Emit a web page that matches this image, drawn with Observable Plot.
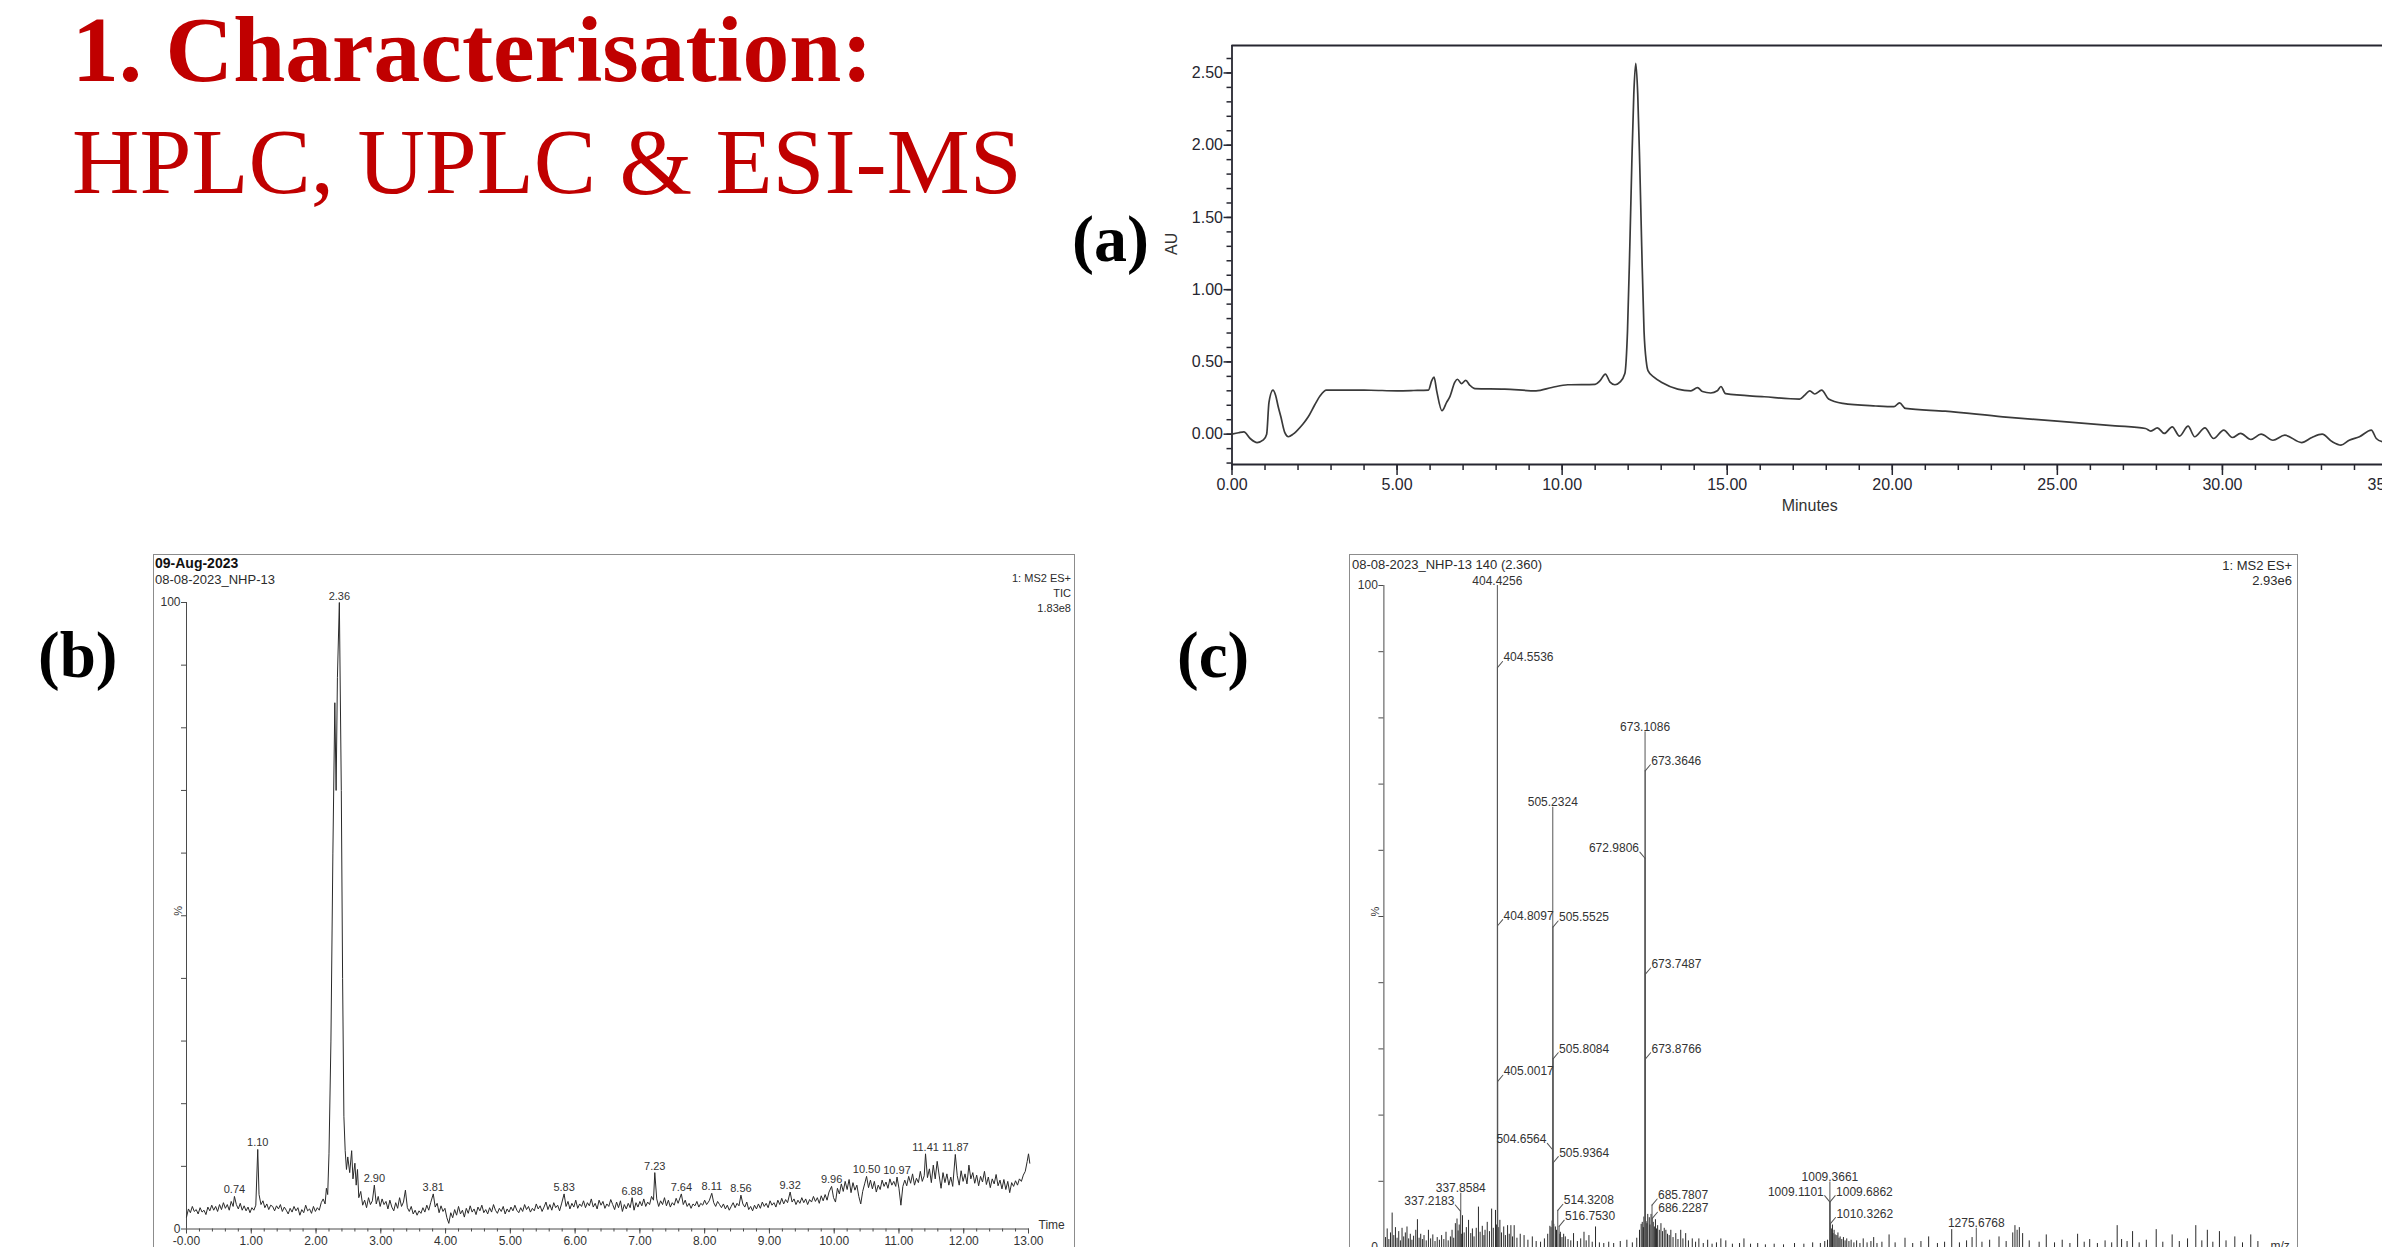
<!DOCTYPE html>
<html><head><meta charset="utf-8">
<script src="https://cdn.jsdelivr.net/npm/d3@7"></script>
<script src="https://cdn.jsdelivr.net/npm/@observablehq/plot@0.6"></script>
<style>
html,body{margin:0;padding:0;background:#fff;}
body{width:2382px;height:1247px;overflow:hidden;position:relative;}
.abs{position:absolute;white-space:nowrap;}
.serif{font-family:"Liberation Serif","Times New Roman",serif;line-height:1;}
.sans{font-family:"Liberation Sans",Arial,sans-serif;color:#2b2b2b;}
.box{position:absolute;border:1px solid #8c8c8c;box-sizing:border-box;}
</style></head><body>
<div class="box" style="left:153px;top:554px;width:922px;height:720px"></div>
<div class="box" style="left:1349px;top:554px;width:949px;height:720px"></div>
<div id="pa" class="abs" style="left:1100px;top:20px;width:1287px;height:505px"></div>
<div id="pb" class="abs" style="left:153px;top:554px;width:921px;height:705px"></div>
<div id="pc" class="abs" style="left:1349px;top:554px;width:948px;height:723px"></div>
<div class="abs serif" style="left:72px;top:3px;font-size:93.6px;font-weight:bold;color:#C00000">1. Characterisation:</div>
<div class="abs serif" style="left:72px;top:115px;font-size:93.4px;color:#C00000">HPLC, UPLC &amp; ESI-MS</div>
<div class="abs serif" style="left:1072px;top:206px;font-size:66px;font-weight:bold">(a)</div>
<div class="abs serif" style="left:38px;top:623px;font-size:65px;font-weight:bold">(b)</div>
<div class="abs serif" style="left:1177px;top:623px;font-size:65px;font-weight:bold">(c)</div>
<div class="abs sans" style="left:155px;top:556px;font-size:14px;font-weight:bold;line-height:1;color:#111">09-Aug-2023</div>
<div class="abs sans" style="left:155px;top:573px;font-size:13px;line-height:1">08-08-2023_NHP-13</div>
<div class="abs sans" style="right:1311px;top:571px;font-size:11px;line-height:15px;text-align:right">1: MS2 ES+<br>TIC<br>1.83e8</div>
<div class="abs sans" style="left:1352px;top:558px;font-size:13px;line-height:1">08-08-2023_NHP-13 140 (2.360)</div>
<div class="abs sans" style="right:90px;top:558px;font-size:13px;line-height:15px;text-align:right">1: MS2 ES+<br>2.93e6</div>
<script>
const SANS = "Liberation Sans, Arial, sans-serif";

// ---------- Panel (a): HPLC chromatogram [minutes, AU] ----------
const hplcTrace = [[0,0],[0.2,0.01],[0.36,0.016],[0.55,-0.03],[0.76,-0.058],[0.95,-0.04],[1.05,0],[1.12,0.22],[1.24,0.305],[1.32,0.27],[1.40,0.19],[1.48,0.12],[1.60,0.01],[1.71,-0.018],[1.85,0],[1.95,0.02],[2.15,0.07],[2.31,0.12],[2.5,0.2],[2.67,0.266],[2.86,0.305],[3.5,0.305],[4.2,0.304],[5.0,0.3],[5.5,0.302],[5.95,0.305],[6.05,0.37],[6.12,0.395],[6.2,0.3],[6.36,0.162],[6.5,0.22],[6.6,0.26],[6.75,0.36],[6.83,0.38],[6.95,0.35],[7.08,0.372],[7.2,0.34],[7.36,0.315],[8.26,0.312],[9.21,0.3],[9.69,0.323],[10.17,0.342],[11.0,0.345],[11.15,0.37],[11.31,0.416],[11.45,0.36],[11.6,0.342],[11.75,0.36],[11.9,0.42],[11.98,0.716],[12.05,1.3],[12.11,1.87],[12.17,2.35],[12.23,2.566],[12.29,2.35],[12.35,1.87],[12.41,1.3],[12.48,0.716],[12.55,0.5],[12.6,0.44],[12.79,0.393],[13.02,0.358],[13.5,0.312],[13.9,0.3],[14.1,0.322],[14.25,0.295],[14.5,0.285],[14.7,0.3],[14.81,0.33],[14.95,0.28],[16.12,0.259],[17.19,0.243],[17.35,0.27],[17.5,0.3],[17.65,0.278],[17.86,0.305],[18.07,0.243],[18.5,0.213],[19.5,0.195],[20.05,0.19],[20.22,0.217],[20.4,0.178],[21.6,0.159],[23.35,0.12],[24.9,0.092],[26.75,0.058],[27.67,0.039],[27.83,0.021],[28.03,0.044],[28.24,0.005],[28.48,0.051],[28.7,-0.014],[28.96,0.055],[29.16,-0.018],[29.47,0.044],[29.73,-0.03],[30.04,0.028],[30.3,-0.023],[30.55,0.005],[30.86,-0.037],[31.17,0],[31.53,-0.042],[31.89,-0.007],[32.4,-0.058],[32.71,-0.023],[33.02,0],[33.33,-0.053],[33.59,-0.076],[33.84,-0.042],[34.15,-0.018],[34.51,0.028],[34.66,-0.03],[34.85,-0.053]];
const xTicksA = [0, 5, 10, 15, 20, 25, 30, 35];
const xTickLabelsA = ["0.00", "5.00", "10.00", "15.00", "20.00", "25.00", "30.00", "35.00"];
const yTicksA = [0, 0.5, 1, 1.5, 2, 2.5];
const yTickLabelsA = ["0.00", "0.50", "1.00", "1.50", "2.00", "2.50"];
const xLabelA = "Minutes", yLabelA = "AU";

// ---------- Panel (b): UPLC-MS TIC [time, %] ----------
const ticTrace = [[0.00,1.9],[0.03,3.2],[0.06,2.6],[0.09,3.6],[0.12,2.8],[0.15,3.1],[0.18,2.4],[0.21,3.4],[0.24,2.7],[0.27,3.0],[0.30,2.3],[0.33,3.5],[0.36,2.9],[0.39,3.8],[0.42,3.0],[0.45,3.6],[0.48,2.8],[0.51,3.9],[0.54,3.1],[0.57,4.2],[0.60,3.3],[0.63,3.9],[0.66,3.0],[0.69,4.4],[0.72,3.6],[0.74,5.2],[0.77,3.9],[0.80,3.2],[0.83,4.1],[0.86,3.0],[0.89,3.7],[0.92,2.9],[0.95,3.5],[0.98,2.6],[1.01,3.4],[1.04,3.0],[1.07,3.8],[1.10,12.7],[1.12,5.5],[1.15,3.9],[1.18,4.5],[1.21,3.4],[1.24,4.0],[1.27,3.1],[1.30,3.8],[1.33,3.6],[1.36,2.9],[1.39,3.7],[1.42,3.2],[1.45,3.9],[1.48,2.8],[1.51,3.5],[1.54,3.0],[1.57,2.4],[1.60,3.3],[1.63,2.7],[1.66,3.6],[1.69,2.9],[1.72,3.4],[1.75,2.2],[1.78,3.1],[1.81,2.6],[1.84,3.8],[1.87,2.9],[1.90,3.2],[1.93,2.5],[1.96,3.6],[1.99,2.8],[2.02,3.4],[2.05,3.0],[2.08,4.2],[2.11,4.8],[2.14,4.0],[2.16,6.5],[2.18,5.5],[2.20,12.0],[2.23,30],[2.26,60],[2.29,84],[2.31,70],[2.33,88],[2.36,100],[2.39,70],[2.41,40],[2.43,18],[2.45,12.5],[2.47,9.5],[2.49,11.5],[2.52,9.0],[2.55,12.5],[2.57,8.0],[2.60,10.5],[2.62,7.0],[2.64,9.5],[2.66,5.0],[2.69,6.0],[2.72,3.8],[2.75,4.6],[2.78,3.4],[2.81,5.0],[2.84,3.9],[2.87,4.5],[2.90,7.0],[2.93,4.0],[2.96,5.2],[2.99,3.6],[3.02,4.8],[3.05,3.9],[3.08,4.4],[3.11,3.2],[3.14,4.6],[3.17,3.5],[3.20,2.9],[3.23,4.2],[3.26,3.3],[3.29,5.0],[3.32,3.6],[3.35,4.3],[3.38,6.2],[3.41,3.4],[3.44,2.8],[3.47,3.6],[3.50,2.4],[3.53,3.0],[3.56,2.2],[3.59,2.9],[3.62,2.5],[3.65,3.4],[3.68,2.7],[3.71,3.8],[3.74,3.0],[3.77,4.2],[3.81,5.6],[3.84,3.5],[3.87,4.1],[3.90,2.6],[3.93,3.7],[3.96,2.8],[3.99,3.3],[4.02,1.8],[4.05,0.9],[4.08,2.6],[4.11,1.8],[4.14,3.1],[4.17,2.2],[4.20,3.6],[4.23,2.4],[4.26,3.0],[4.29,1.9],[4.32,3.3],[4.35,2.5],[4.38,3.7],[4.41,2.7],[4.44,3.2],[4.47,2.3],[4.50,3.5],[4.53,2.9],[4.56,3.8],[4.59,2.6],[4.62,3.1],[4.65,2.4],[4.68,3.4],[4.71,2.7],[4.74,3.9],[4.77,3.0],[4.80,2.5],[4.83,3.3],[4.86,2.8],[4.89,3.6],[4.92,2.4],[4.95,3.2],[4.98,2.7],[5.01,3.5],[5.04,2.9],[5.07,3.8],[5.10,3.0],[5.13,2.6],[5.16,3.4],[5.19,2.8],[5.22,3.9],[5.25,3.1],[5.28,3.6],[5.31,2.7],[5.34,3.3],[5.37,2.9],[5.40,4.0],[5.43,3.2],[5.46,3.7],[5.49,2.8],[5.52,3.5],[5.55,4.3],[5.58,3.1],[5.61,3.9],[5.64,3.0],[5.67,4.2],[5.70,3.4],[5.73,3.8],[5.76,2.9],[5.79,4.0],[5.83,5.6],[5.86,3.6],[5.89,4.4],[5.92,3.2],[5.95,4.1],[5.98,3.5],[6.01,4.6],[6.04,3.3],[6.07,4.0],[6.10,3.6],[6.13,4.5],[6.16,3.4],[6.19,4.2],[6.22,3.7],[6.25,4.8],[6.28,3.5],[6.31,4.1],[6.34,3.2],[6.37,4.6],[6.40,3.8],[6.43,4.4],[6.46,3.3],[6.49,4.0],[6.52,3.6],[6.55,4.7],[6.58,3.9],[6.61,3.1],[6.64,4.3],[6.67,3.4],[6.70,4.5],[6.73,2.8],[6.76,3.9],[6.79,3.2],[6.82,4.1],[6.85,3.4],[6.88,5.0],[6.91,3.0],[6.94,4.2],[6.97,3.5],[7.00,4.4],[7.03,3.7],[7.06,4.8],[7.09,3.6],[7.12,4.3],[7.15,3.9],[7.18,5.2],[7.21,4.6],[7.23,9.0],[7.26,4.8],[7.29,3.6],[7.32,4.5],[7.35,3.9],[7.38,5.0],[7.41,3.7],[7.44,4.6],[7.47,3.5],[7.50,4.2],[7.53,3.8],[7.56,4.9],[7.59,4.1],[7.64,5.6],[7.67,3.9],[7.70,4.6],[7.73,3.6],[7.76,4.1],[7.79,3.3],[7.82,4.0],[7.85,3.7],[7.88,4.4],[7.91,3.5],[7.94,4.1],[7.97,3.8],[8.00,4.6],[8.03,3.9],[8.07,4.5],[8.11,5.7],[8.14,4.2],[8.17,3.6],[8.20,4.4],[8.23,3.9],[8.26,3.4],[8.29,4.0],[8.32,3.2],[8.35,3.8],[8.38,3.0],[8.41,3.6],[8.44,4.2],[8.47,3.4],[8.50,4.1],[8.53,3.7],[8.56,5.4],[8.59,4.0],[8.62,3.5],[8.65,4.3],[8.68,3.1],[8.71,3.6],[8.74,2.9],[8.77,3.8],[8.80,3.2],[8.83,4.0],[8.86,3.3],[8.89,4.3],[8.92,3.6],[8.95,4.1],[8.98,3.4],[9.01,4.5],[9.04,3.8],[9.07,4.2],[9.10,3.5],[9.13,4.6],[9.16,3.9],[9.19,4.9],[9.22,4.0],[9.25,4.7],[9.28,4.2],[9.32,5.9],[9.35,4.3],[9.38,4.8],[9.41,3.9],[9.44,4.6],[9.47,4.1],[9.50,5.0],[9.53,4.2],[9.56,4.8],[9.59,3.9],[9.62,4.7],[9.65,4.3],[9.68,5.2],[9.71,4.4],[9.74,5.0],[9.77,4.1],[9.80,5.3],[9.83,4.5],[9.86,5.5],[9.89,4.6],[9.92,5.9],[9.96,6.8],[9.99,5.0],[10.02,4.3],[10.05,6.5],[10.08,5.6],[10.11,7.2],[10.14,6.0],[10.17,7.6],[10.20,6.3],[10.23,7.9],[10.26,5.8],[10.29,7.4],[10.32,6.2],[10.35,7.0],[10.38,5.2],[10.41,4.0],[10.44,6.0],[10.47,7.2],[10.50,8.4],[10.53,6.6],[10.56,7.8],[10.59,6.4],[10.62,7.6],[10.65,5.9],[10.68,7.0],[10.71,6.3],[10.74,7.8],[10.77,6.8],[10.80,7.5],[10.83,6.5],[10.86,8.0],[10.89,7.0],[10.92,7.6],[10.95,6.8],[10.97,8.3],[11.00,6.5],[11.03,3.8],[11.06,6.8],[11.09,7.8],[11.12,6.9],[11.15,8.4],[11.18,7.3],[11.21,8.8],[11.24,7.0],[11.27,8.1],[11.30,7.4],[11.33,9.2],[11.36,7.6],[11.39,8.5],[11.41,12.0],[11.44,8.2],[11.47,9.6],[11.50,7.4],[11.53,10.2],[11.56,8.0],[11.59,10.8],[11.62,8.6],[11.65,6.5],[11.68,9.0],[11.71,7.4],[11.74,8.8],[11.77,7.0],[11.80,8.3],[11.83,6.8],[11.87,11.9],[11.90,8.5],[11.93,7.0],[11.96,9.3],[11.99,7.6],[12.02,8.8],[12.05,7.2],[12.08,10.2],[12.11,8.0],[12.14,9.0],[12.17,7.3],[12.20,8.6],[12.23,6.9],[12.26,8.4],[12.29,7.5],[12.32,9.2],[12.35,7.1],[12.38,8.3],[12.41,6.6],[12.44,8.0],[12.47,7.2],[12.50,8.7],[12.53,6.9],[12.56,7.8],[12.59,6.4],[12.62,7.9],[12.65,6.3],[12.68,7.6],[12.71,5.8],[12.74,7.4],[12.77,6.8],[12.80,7.7],[12.83,7.0],[12.86,8.0],[12.89,7.6],[12.92,8.6],[12.95,9.2],[12.98,10.8],[13.00,12.0],[13.02,10.5]];
const ticPeakTime = [0.74, 1.10, 2.36, 2.90, 3.81, 5.83, 6.88, 7.23, 7.64, 8.11, 8.56, 9.32, 9.96, 10.50, 10.97, 11.41, 11.87];
const ticPeakPct = [5.2, 12.7, 100, 7.0, 5.6, 5.6, 5.0, 9.0, 5.6, 5.7, 5.4, 5.9, 6.8, 8.4, 8.3, 12.0, 11.9];
const ticPeakLabel = ["0.74", "1.10", "2.36", "2.90", "3.81", "5.83", "6.88", "7.23", "7.64", "8.11", "8.56", "9.32", "9.96", "10.50", "10.97", "11.41", "11.87"];
const xTicksB = [0,1,2,3,4,5,6,7,8,9,10,11,12,13];
const xTickLabelsB = ["-0.00","1.00","2.00","3.00","4.00","5.00","6.00","7.00","8.00","9.00","10.00","11.00","12.00","13.00"];
const yEndTicks = [0, 100];
const yEndLabels = ["0", "100"];

// ---------- Panel (c): ESI-MS spectrum [m/z, %] ----------
const peakMz = [404.4256, 404.5536, 404.8097, 405.0017, 505.2324, 505.5525, 505.8084, 505.9364, 504.6564, 673.1086, 673.3646, 672.9806, 673.7487, 673.8766, 337.8584, 337.2183, 514.3208, 516.7530, 685.7807, 686.2287, 1009.3661, 1009.1101, 1009.6862, 1010.3262, 1275.6768];
const peakPct = [100, 87.6, 48.6, 25.1, 66.5, 48.4, 28.5, 12.8, 14.8, 77.9, 72.0, 58.8, 41.3, 28.5, 8.2, 5.5, 5.6, 3.2, 6.4, 4.4, 9.9, 6.9, 6.9, 3.6, 2.9];
const peakLabel = ["404.4256", "404.5536", "404.8097", "405.0017", "505.2324", "505.5525", "505.8084", "505.9364", "504.6564", "673.1086", "673.3646", "672.9806", "673.7487", "673.8766", "337.8584", "337.2183", "514.3208", "516.7530", "685.7807", "686.2287", "1009.3661", "1009.1101", "1009.6862", "1010.3262", "1275.6768"];
const peakSide = ["top", "right", "right", "right", "top", "right", "right", "right", "left", "top", "right", "left", "right", "right", "top", "left", "right", "right", "right", "right", "top", "left", "right", "right", "top"];
const noisePeaks = [[201,1.5],[204,2.8],[207,1.2],[210,2.2],[213,5.2],[216,1.8],[219,3.0],[222,1.4],[225,2.4],[228,1.0],[231,2.9],[234,1.6],[237,2.2],[240,3.1],[243,1.3],[246,2.0],[249,1.1],[252,1.7],[256,2.6],[259,4.2],[262,1.4],[265,2.0],[268,1.2],[271,1.8],[275,1.0],[279,2.6],[283,1.3],[287,1.9],[291,0.9],[295,1.5],[299,1.1],[303,1.8],[307,1.2],[311,2.3],[315,1.0],[319,1.6],[322,2.6],[325,1.4],[328,3.6],[331,4.3],[333,2.5],[335,3.4],[339,2.0],[341,4.8],[344,2.2],[348,3.0],[352,4.1],[356,2.1],[359,2.8],[362,1.6],[366,2.9],[370,6.1],[373,2.3],[377,3.2],[380,1.8],[382,2.6],[386,3.8],[390,2.4],[394,5.8],[397,2.9],[401,5.6],[403,3.4],[406,3.0],[409,4.1],[412,2.2],[416,3.1],[419,1.8],[423,3.3],[426,2.0],[429,3.3],[432,1.6],[435,3.3],[440,1.4],[446,2.0],[453,1.8],[460,1.1],[468,1.6],[475,0.9],[483,0.8],[490,1.3],[496,2.0],[500,3.2],[502,3.0],[504,4.0],[507,3.5],[510,3.1],[512,2.6],[518,2.0],[519,2.3],[522,1.5],[525,2.0],[528,1.6],[533,1.2],[538,1.0],[543,2.1],[550,0.9],[556,1.3],[562,2.3],[566,1.0],[571,1.8],[577,0.8],[583,3.1],[590,0.7],[598,0.6],[607,0.8],[616,0.6],[628,0.9],[640,1.1],[650,0.7],[658,1.4],[663,2.6],[666,3.5],[668,3.8],[670,3.0],[671,4.6],[675,3.9],[676.5,3.6],[678,5.0],[680.8,4.5],[682,3.4],[684,5.0],[688,3.8],[690,3.1],[692,4.2],[694,2.8],[696,3.3],[699,2.6],[702,3.6],[705,2.4],[708,2.9],[711,2.6],[714,2.0],[717,1.8],[720,2.6],[724,1.5],[729,2.1],[733,1.2],[738,2.6],[742,1.3],[747,2.1],[752,1.0],[759,1.3],[765,0.8],[771,1.3],[779,0.6],[787,1.1],[795,0.5],[803,0.7],[811,1.3],[820,1.0],[832,0.5],[845,0.6],[853,1.3],[865,0.5],[878,0.6],[892,0.4],[908,0.5],[925,0.4],[945,0.6],[962,0.5],[978,0.7],[992,0.6],[1000,0.9],[1005,1.1],[1012,2.8],[1014,3.4],[1015,2.1],[1017,2.6],[1019,1.9],[1022,1.8],[1024,2.2],[1026,1.4],[1028,1.6],[1031,1.2],[1034,1.5],[1037,1.0],[1040,1.3],[1044,0.9],[1048,1.1],[1053,0.7],[1058,1.0],[1064,0.6],[1070,1.3],[1077,0.7],[1084,0.9],[1089,1.5],[1095,0.6],[1104,0.8],[1117,1.9],[1128,0.7],[1146,1.4],[1160,0.6],[1175,0.9],[1189,1.6],[1205,0.6],[1218,0.8],[1231,2.7],[1245,0.7],[1258,1.0],[1268,1.5],[1286,0.8],[1300,1.1],[1317,1.6],[1330,0.9],[1342,2.2],[1346,3.3],[1350,2.6],[1354,3.0],[1360,2.1],[1372,1.0],[1390,0.8],[1403,1.9],[1418,0.7],[1432,1.1],[1446,0.6],[1460,2.0],[1472,0.8],[1482,1.2],[1496,0.6],[1510,1.0],[1522,0.7],[1532,3.3],[1540,1.2],[1550,0.9],[1560,2.4],[1572,0.7],[1585,1.1],[1603,2.7],[1615,0.8],[1632,1.9],[1645,0.9],[1660,1.3],[1675,3.3],[1686,1.0],[1696,2.6],[1706,0.8],[1718,2.4],[1730,1.0],[1746,1.6],[1760,0.7],[1775,1.9],[1788,0.9]];
const mzDomain = [198, 1800];

// ---------- build ----------
const mapOf = (ks, vs) => new Map(ks.map((k, i) => [k, vs[i]]));
const none = () => "";

// (a)
const xLabA = mapOf(xTicksA, xTickLabelsA), yLabA = mapOf(yTicksA, yTickLabelsA);
const yMinorA = d3.range(-0.2, 2.65, 0.1).map(d => +d.toFixed(1));
const xMinorA = d3.range(0, 35.5, 1);
const axA = "#262630";
const plotA = Plot.plot({
  width: 1287, height: 505,
  marginLeft: 131.5, marginRight: 0, marginTop: 25, marginBottom: 61,
  x: {domain: [0, 35]}, y: {domain: [-0.21, 2.69]},
  style: {fontFamily: SANS, fontSize: "16px", color: axA, background: "transparent", maxWidth: "none", overflow: "visible"},
  marks: [
    Plot.ruleY([2.69], {stroke: axA, strokeWidth: 2.2}),
    Plot.ruleY([-0.21], {stroke: axA, strokeWidth: 1.8}),
    Plot.ruleX([0], {stroke: axA, strokeWidth: 1.8}),
    Plot.axisY(yMinorA, {tickSize: 5, tickFormat: none, stroke: axA, strokeWidth: 1.5, label: null}),
    Plot.axisY(yTicksA, {tickSize: 8, tickPadding: 1, tickFormat: d => yLabA.get(d), stroke: axA, strokeWidth: 1.5, fontSize: 16, label: null}),
    Plot.axisX(xMinorA, {tickSize: 6, tickFormat: none, stroke: axA, strokeWidth: 1.5, label: null}),
    Plot.axisX(xTicksA, {tickSize: 11, tickPadding: 3, tickFormat: d => xLabA.get(d), stroke: axA, strokeWidth: 1.5, fontSize: 16, label: null}),
    Plot.text([yLabelA], {frameAnchor: "left", rotate: -90, dx: -60, fontSize: 16, fill: "#333"}),
    Plot.text([xLabelA], {frameAnchor: "bottom", dy: 46, fontSize: 16, fill: "#333"}),
    Plot.line(hplcTrace, {x: d => d[0], y: d => d[1], stroke: "#3a3a3a", strokeWidth: 1.7, curve: "monotone-x"})
  ]
});
document.getElementById("pa").append(plotA);

// (b)
const xLabB = mapOf(xTicksB, xTickLabelsB);
const yEndLab = mapOf(yEndTicks, yEndLabels);
const ticPeaks = ticPeakTime.map((t, i) => ({t, v: ticPeakPct[i], label: ticPeakLabel[i]}));
const axB = "#4a4a4a";
const plotB = Plot.plot({
  width: 921, height: 705,
  marginLeft: 33, marginRight: 46, marginTop: 48, marginBottom: 30.5,
  x: {domain: [0, 13]}, y: {domain: [0, 100]},
  style: {fontFamily: SANS, fontSize: "12px", color: "#333", background: "transparent", maxWidth: "none", overflow: "visible"},
  marks: [
    Plot.ruleX([0], {y1: 0, y2: 100, stroke: axB}),
    Plot.ruleY([0], {x1: 0, x2: 13, stroke: axB}),
    Plot.axisY(d3.range(0, 101, 10), {tickSize: 5, tickFormat: none, stroke: axB, label: null}),
    Plot.text(yEndTicks, {x: 0, y: d => d, text: d => yEndLab.get(d), textAnchor: "end", dx: -6, fontSize: 12, fill: "#333"}),
    Plot.text(["%"], {frameAnchor: "left", rotate: -90, dx: -8, fontSize: 11, fill: "#333"}),
    Plot.axisX(d3.range(0, 13.01, 0.2).map(d => +d.toFixed(1)), {tickSize: 3, tickFormat: none, stroke: axB, label: null}),
    Plot.axisX(xTicksB, {tickSize: 5, tickPadding: 2, tickFormat: d => xLabB.get(d), stroke: axB, fontSize: 12, label: null}),
    Plot.text(["Time"], {frameAnchor: "bottom-right", textAnchor: "start", dx: 10, fontSize: 12, fill: "#333"}),
    Plot.line(ticTrace, {x: d => d[0], y: d => d[1], stroke: "#2a2a2a", strokeWidth: 1}),
    Plot.text(ticPeaks, {x: "t", y: "v", text: "label", lineAnchor: "bottom", dy: -3, fontSize: 11, fill: "#333"})
  ]
});
document.getElementById("pb").append(plotB);

// (c)
const peaks = peakMz.map((mz, i) => ({mz, pct: peakPct[i], label: peakLabel[i], side: peakSide[i]}));
const noise = noisePeaks.map(([mz, pct]) => ({mz, pct}));
const leader = {draw(ctx, l) { ctx.moveTo(0, 0); ctx.lineTo(0, -l); }};
const axC = "#4a4a4a";
const plotC = Plot.plot({
  width: 948, height: 723,
  marginLeft: 34.4, marginRight: 33, marginTop: 31, marginBottom: 30,
  x: {domain: mzDomain}, y: {domain: [0, 100]},
  style: {fontFamily: SANS, fontSize: "12px", color: "#333", background: "transparent", maxWidth: "none", overflow: "visible"},
  marks: [
    Plot.ruleX([mzDomain[0]], {y1: 0, y2: 100, stroke: axC}),
    Plot.ruleY([0], {stroke: axC}),
    Plot.axisY(d3.range(0, 101, 10), {tickSize: 5, tickFormat: none, stroke: axC, label: null}),
    Plot.text(yEndTicks, {x: mzDomain[0], y: d => d, text: d => yEndLab.get(d), textAnchor: "end", dx: -6, fontSize: 12, fill: "#333"}),
    Plot.text(["%"], {frameAnchor: "left", rotate: -90, dx: -8, fontSize: 11, fill: "#333"}),
    Plot.text(["m/z"], {frameAnchor: "bottom-right", textAnchor: "start", dx: 6, dy: 2, fontSize: 12, fill: "#333"}),
    Plot.ruleX(noise, {x: "mz", y1: 0, y2: "pct", stroke: "#2a2a2a", strokeWidth: 1}),
    Plot.ruleX(peaks, {x: "mz", y1: 0, y2: "pct", stroke: "#555", strokeWidth: 1}),
    Plot.vector(peaks.filter(d => d.side === "right"), {x: "mz", y: "pct", length: 8, rotate: 40, anchor: "start", shape: leader, stroke: "#555", strokeWidth: 1}),
    Plot.vector(peaks.filter(d => d.side === "left"), {x: "mz", y: "pct", length: 8, rotate: -40, anchor: "start", shape: leader, stroke: "#555", strokeWidth: 1}),
    Plot.text(peaks.filter(d => d.side === "top"), {x: "mz", y: "pct", text: "label", lineAnchor: "bottom", dy: -1, fontSize: 12, fill: "#333"}),
    Plot.text(peaks.filter(d => d.side === "right"), {x: "mz", y: "pct", text: "label", textAnchor: "start", dx: 6, dy: -10, fontSize: 12, fill: "#333"}),
    Plot.text(peaks.filter(d => d.side === "left"), {x: "mz", y: "pct", text: "label", textAnchor: "end", dx: -6, dy: -10, fontSize: 12, fill: "#333"})
  ]
});
document.getElementById("pc").append(plotC);
</script>
</body></html>
